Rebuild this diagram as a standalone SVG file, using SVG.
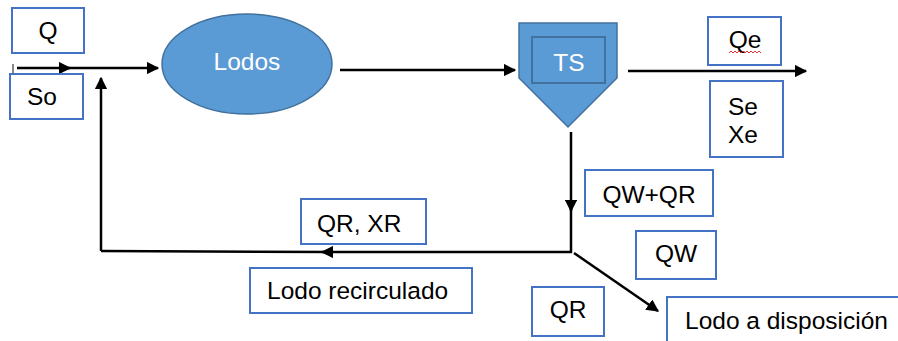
<svg xmlns="http://www.w3.org/2000/svg" width="898" height="341" viewBox="0 0 898 341">
<style>
.box{fill:#fff;stroke:#4472C4;stroke-width:2}
.t{font-family:"Liberation Sans",Arial,sans-serif;font-size:24.5px;fill:#000}
.w{font-family:"Liberation Sans",Arial,sans-serif;font-size:24.5px;fill:#fff}
.c{fill:none;stroke:#000;stroke-width:2.5}
</style>
<defs>
<marker id="ah" viewBox="0 0 10 10" refX="9" refY="5" markerWidth="5" markerHeight="5" orient="auto" markerUnits="strokeWidth">
<path d="M0,0 L10,5 L0,10 z" fill="#000"/>
</marker>
</defs>
<rect width="898" height="341" fill="#fff"/>
<g id="connectors">
<line x1="13" y1="64" x2="13" y2="90" stroke="#888" stroke-width="2"/>
<line class="c" x1="17" y1="68" x2="70" y2="68" marker-end="url(#ah)"/>
<line class="c" x1="66" y1="68" x2="158" y2="68" marker-end="url(#ah)"/>
<line class="c" x1="340" y1="70" x2="515" y2="70" marker-end="url(#ah)"/>
<line class="c" x1="628" y1="71" x2="806" y2="71" marker-end="url(#ah)"/>
<line class="c" x1="571" y1="132" x2="571" y2="211" marker-end="url(#ah)"/>
<line class="c" x1="571" y1="205" x2="571" y2="253"/>
<line class="c" x1="572" y1="252" x2="322" y2="252" marker-end="url(#ah)"/>
<line class="c" x1="330" y1="252" x2="101" y2="251"/>
<line class="c" x1="101" y1="251" x2="101" y2="78" marker-end="url(#ah)"/>
<line class="c" x1="574" y1="253" x2="658" y2="311" marker-end="url(#ah)"/>
</g>
<g id="Q"><rect class="box" x="12" y="8" width="72" height="45"/><text class="t" x="48" y="39" text-anchor="middle">Q</text></g>
<g id="So"><rect class="box" x="10" y="74" width="73" height="45"/><text class="t" x="42" y="105" text-anchor="middle">So</text></g>
<g id="Lodos"><ellipse cx="247" cy="64" rx="85" ry="50" fill="#5B9BD5" stroke="#41719C" stroke-width="1.5"/><text class="w" x="247" y="70" text-anchor="middle">Lodos</text></g>
<g id="TS"><path d="M519,23 L617,23 L617,78 L568,127 L519,78 Z" fill="#5B9BD5" stroke="#41719C" stroke-width="1.5"/><rect x="532" y="37" width="73" height="46" fill="none" stroke="#41719C" stroke-width="2"/><text class="w" x="569" y="71" text-anchor="middle">TS</text></g>
<g id="Qe"><rect class="box" x="708" y="17" width="73" height="48"/><text class="t" x="745" y="48" text-anchor="middle">Qe</text><path d="M729,53 l2,-2 l2,2 l2,-2 l2,2 l2,-2 l2,2 l2,-2 l2,2 l2,-2 l2,2 l2,-2 l2,2 l2,-2 l2,2 l2,-2 l2,2" fill="none" stroke="#E03030" stroke-width="1"/></g>
<g id="SeXe"><rect class="box" x="710" y="81" width="73" height="76"/><text class="t" x="728" y="115">Se</text><text class="t" x="728" y="143">Xe</text></g>
<g id="QWQR"><rect class="box" x="585" y="170" width="128" height="46"/><text class="t" x="649" y="203" text-anchor="middle">QW+QR</text></g>
<g id="QRXR"><rect class="box" x="301" y="199" width="125" height="45"/><text class="t" x="317" y="232">QR, XR</text></g>
<g id="LodoRecirculado"><rect class="box" x="250" y="268" width="222" height="45"/><text class="t" x="267" y="299">Lodo recirculado</text></g>
<g id="QW"><rect class="box" x="636" y="231" width="80" height="48"/><text class="t" x="676" y="262" text-anchor="middle">QW</text></g>
<g id="QR"><rect class="box" x="532" y="287" width="72" height="49"/><text class="t" x="568" y="318" text-anchor="middle">QR</text></g>
<g id="LodoDisposicion"><rect class="box" x="667" y="297" width="240" height="60"/><text class="t" x="685" y="329">Lodo a disposición</text></g>
</svg>
